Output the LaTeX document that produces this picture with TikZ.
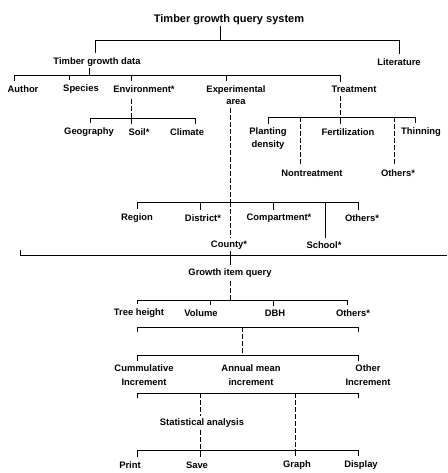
\documentclass[tikz,border=0pt]{standalone}
\usepackage{fontspec}
\setmainfont{Liberation Sans}
\begin{document}
\begin{tikzpicture}[x=1pt,y=-1pt,
  lbl/.style={font=\bfseries\fontsize{9.4}{12.5}\selectfont,inner sep=1pt,align=center},
  ttl/.style={font=\bfseries\fontsize{11}{13}\selectfont,inner sep=1pt},
  ln/.style={line width=0.7pt},
  dsh/.style={line width=0.7pt,dash pattern=on 5pt off 2pt},
  tk/.style={line width=0.7pt,shorten >=3pt}]
\useasboundingbox (0,0) rectangle (447,473);
% ---- nodes
\node[ttl] (T) at (229,20) {Timber growth query system};
\node[lbl] (TGD) at (97,62) {Timber growth data};
\node[lbl] (Lit) at (399,62) {Literature};
\node[lbl] (Author) at (23,89) {Author};
\node[lbl] (Species) at (81,89) {Species};
\node[lbl] (Env) at (144,89) {Environment*};
\node[lbl] (Exp) at (236,95) {Experimental\\area};
\node[lbl] (Treat) at (354,89) {Treatment};
\node[lbl] (Geo) at (89,132) {Geography};
\node[lbl] (Soil) at (139,132) {Soil*};
\node[lbl] (Clim) at (187,132) {Climate};
\node[lbl] (Plant) at (268,138.5) {Planting\\density};
\node[lbl] (Fert) at (348,132) {Fertilization};
\node[lbl] (Thin) at (421,132) {Thinning};
\node[lbl] (Nontr) at (312,173) {Nontreatment};
\node[lbl] (OthA) at (398,173) {Others*};
\node[lbl] (Region) at (137,218) {Region};
\node[lbl] (District) at (203,218) {District*};
\node[lbl] (Comp) at (279,218) {Compartment*};
\node[lbl] (OthB) at (362,218) {Others*};
\node[lbl] (County) at (229,245) {County*};
\node[lbl] (School) at (324,245) {School*};
\node[lbl] (GIQ) at (230,273) {Growth item query};
\node[lbl] (TreeH) at (139,313) {Tree height};
\node[lbl] (Vol) at (201,313) {Volume};
\node[lbl] (DBH) at (275,313) {DBH};
\node[lbl] (OthC) at (353,313) {Others*};
\node[lbl,font=\bfseries\fontsize{9.4}{14}\selectfont] (Cum) at (144,375.5) {Cummulative\\Increment};
\node[lbl,font=\bfseries\fontsize{9.4}{14}\selectfont] (Ann) at (251,375.5) {Annual mean\\increment};
\node[lbl,font=\bfseries\fontsize{9.4}{14}\selectfont] (OInc) at (368,375.5) {Other\\Increment};
\node[lbl] (Stat) at (202,423) {Statistical analysis};
\node[lbl] (Print) at (130,465) {Print};
\node[lbl] (Save) at (197,465) {Save};
\node[lbl] (Graph) at (297,465) {Graph};
\node[lbl] (Disp) at (361,465) {Display};
% ---- coordinates
\coordinate (j1) at (220,40);
\coordinate (b1l) at (95,40); \coordinate (b1r) at (399,40);
\coordinate (j2) at (89,75);
\coordinate (b2l) at (14,75); \coordinate (b2r) at (340,75);
\coordinate (t2a) at (69,75); \coordinate (t2b) at (131,75); \coordinate (t2c) at (226,75);
\coordinate (j3) at (131,118);
\coordinate (b3l) at (90,118); \coordinate (b3r) at (195,118);
\coordinate (j4) at (340,117);
\coordinate (b4l) at (268,117); \coordinate (b4r) at (415,117);
\coordinate (t4a) at (300,117); \coordinate (t4b) at (394,117);
\coordinate (j5) at (230,202);
\coordinate (b5l) at (137,202); \coordinate (b5r) at (358,202);
\coordinate (t5a) at (200,202); \coordinate (t5b) at (273,202); \coordinate (t5c) at (325,202);
\coordinate (sepl) at (20,255); \coordinate (sepr) at (447,255); \coordinate (sept) at (20,250);
\coordinate (j6) at (230,300);
\coordinate (b6l) at (137,300); \coordinate (b6r) at (347,300);
\coordinate (t6a) at (210,300); \coordinate (t6b) at (273,300);
\coordinate (b7l) at (137,327); \coordinate (b7r) at (358,327); \coordinate (j7) at (242,327);
\coordinate (b8l) at (137,355); \coordinate (b8r) at (358,355); \coordinate (j8) at (242,355);
\coordinate (b9l) at (137,393); \coordinate (b9r) at (358,393);
\coordinate (t9a) at (200,393); \coordinate (t9b) at (295,393);
\coordinate (b10l) at (137,450); \coordinate (b10r) at (358,450);
\coordinate (t10a) at (200,450); \coordinate (t10b) at (295,450);
% ---- level 1
\draw[ln] (T.south -| j1) -- (j1);
\draw[ln] (b1l) -- (b1r);
\draw[tk] (b1l) -- (b1l |- TGD.north);
\draw[tk] (b1r) -- (b1r |- Lit.north);
% ---- level 2
\draw[ln] (TGD.south -| j2) -- (j2);
\draw[ln] (b2l) -- (b2r);
\draw[tk] (b2l) -- (b2l |- Author.north);
\draw[tk] (t2a) -- (t2a |- Species.north);
\draw[tk] (t2b) -- (t2b |- Env.north);
\draw[tk] (t2c) -- (t2c |- Exp.north);
\draw[tk] (b2r) -- (b2r |- Treat.north);
% ---- environment
\draw[dsh,shorten <=5pt] (Env.south -| j3) -- (j3);
\draw[ln] (b3l) -- (b3r);
\draw[tk] (b3l) -- (b3l |- Geo.north);
\draw[tk] (j3) -- (j3 |- Soil.north);
\draw[tk] (b3r) -- (b3r |- Clim.north);
% ---- treatment
\draw[dsh,shorten <=3pt] (Treat.south -| j4) -- (j4);
\draw[ln] (b4l) -- (b4r);
\draw[tk] (b4l) -- (b4l |- Plant.north);
\draw[tk] (j4) -- (j4 |- Fert.north);
\draw[tk] (b4r) -- (b4r |- Thin.north);
\draw[dsh,shorten >=3pt] (t4a) -- (t4a |- Nontr.north);
\draw[dsh,shorten >=3pt] (t4b) -- (t4b |- OthA.north);
% ---- experimental area
\draw[dsh,shorten <=2pt] (Exp.south -| j5) -- (j5);
\draw[ln] (b5l) -- (b5r);
\draw[tk] (b5l) -- (b5l |- Region.north);
\draw[tk] (t5a) -- (t5a |- District.north);
\draw[tk] (t5b) -- (t5b |- Comp.north);
\draw[tk] (b5r) -- (b5r |- OthB.north);
\draw[dsh,shorten >=2pt] (j5) -- (j5 |- County.north);
\draw[ln,shorten >=2pt] (t5c) -- (t5c |- School.north);
% ---- separator
\draw[ln] (sept) -- (sepl) -- (sepr);
\draw[ln,shorten <=1pt,shorten >=2pt] (County.south -| GIQ) -- (GIQ.north);
% ---- growth items
\draw[dsh,shorten <=2pt] (GIQ.south -| j6) -- (j6);
\draw[ln] (b6l) -- (b6r);
\draw[tk] (b6l) -- (b6l |- TreeH.north);
\draw[tk] (t6a) -- (t6a |- Vol.north);
\draw[tk] (t6b) -- (t6b |- DBH.north);
\draw[tk] (b6r) -- (b6r |- OthC.north);
\draw[ln] ([yshift=-5pt]b7l) -- (b7l) -- (b7r) -- ([yshift=-5pt]b7r);
\draw[dsh] (j7) -- (j8);
% ---- increments
\draw[ln] (b8l) -- (b8r);
\draw[tk] (b8l) -- (b8l |- Cum.north);
\draw[tk] (b8r) -- (b8r |- OInc.north);
\draw[ln] ([yshift=-5pt]b9l) -- (b9l) -- (b9r) -- ([yshift=-5pt]b9r);
% ---- output
\draw[dsh,shorten >=1pt] (t9a) -- (t9a |- Stat.north);
\draw[dsh,shorten <=1pt] (Stat.south -| t10a) -- (t10a);
\draw[dsh] (t9b) -- (t10b);
\draw[ln] (b10l) -- (b10r);
\draw[tk] (b10l) -- (b10l |- Print.north);
\draw[tk] (t10a) -- (t10a |- Save.north);
\draw[tk] (t10b) -- (t10b |- Graph.north);
\draw[tk] (b10r) -- (b10r |- Disp.north);
\end{tikzpicture}
\end{document}
